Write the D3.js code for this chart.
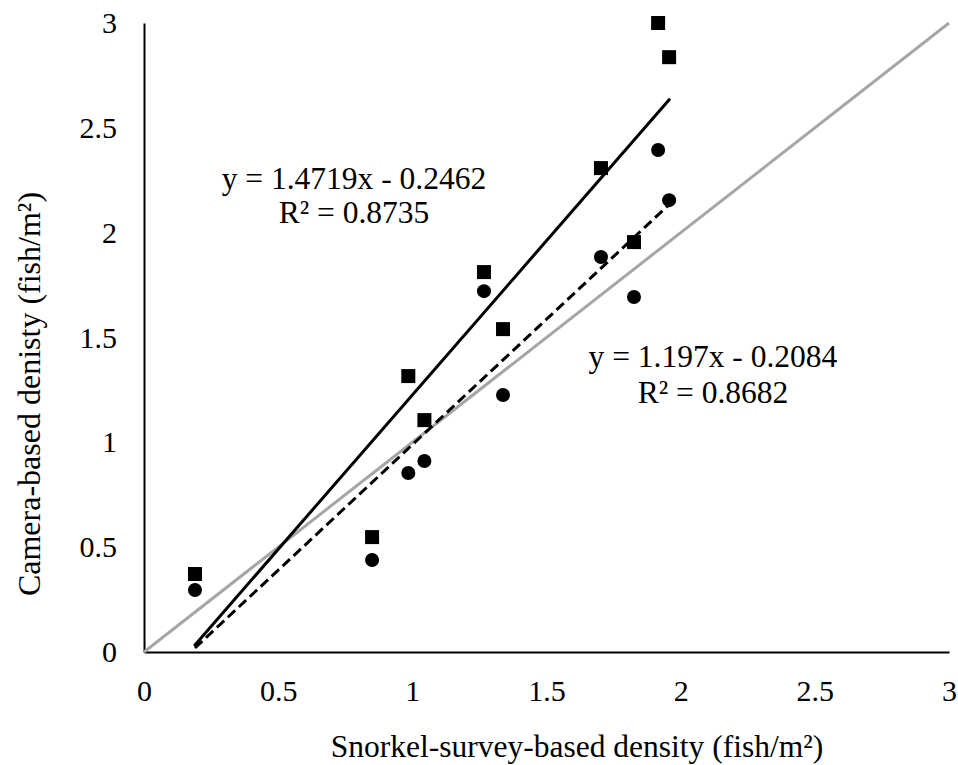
<!DOCTYPE html>
<html>
<head>
<meta charset="utf-8">
<script src="https://cdn.jsdelivr.net/npm/d3@7"></script>
<style>
  html, body { margin: 0; padding: 0; background: #fff; }
  svg { display: block; }
  text { font-family: "Liberation Serif", "Times New Roman", serif; fill: #000; }
</style>
</head>
<body>
<svg id="chart" width="958" height="765"></svg>
<script>
// ---- Data ----
const snorkelX = [0.19, 0.85, 0.985, 1.045, 1.267, 1.338, 1.703, 1.826, 1.916, 1.957];
const cameraSquares = [0.372, 0.548, 1.316, 1.106, 1.812, 1.540, 2.308, 1.955, 3.0, 2.837];
const cameraCircles = [0.296, 0.439, 0.854, 0.911, 1.721, 1.226, 1.884, 1.693, 2.394, 2.155];
const xTicks = [0, 0.5, 1, 1.5, 2, 2.5, 3];
const yTicks = [0, 0.5, 1, 1.5, 2, 2.5, 3];
const trendSquares = { slope: 1.4719, intercept: -0.2462, r2: 0.8735 };
const trendCircles = { slope: 1.197, intercept: -0.2084, r2: 0.8682 };
const oneToOne = [[0, 0], [3, 3]];
const xTitle = "Snorkel-survey-based density (fish/m\u00B2)";
const yTitle = "Camera-based denisty (fish/m\u00B2)";

const svg = d3.select("#chart");
const x = d3.scaleLinear().domain([0, 3]).range([144, 949]);
const y = d3.scaleLinear().domain([0, 3]).range([652, 23]);
const fmt = d => d3.format("")(d);

// Axes
const xAxis = svg.append("g").attr("transform", `translate(0,${y(0)})`)
  .call(d3.axisBottom(x).tickValues(xTicks).tickSize(0).tickPadding(28).tickFormat(fmt));
const yAxis = svg.append("g").attr("transform", `translate(${x(0)},0)`)
  .call(d3.axisLeft(y).tickValues(yTicks).tickSize(0).tickPadding(27).tickFormat(fmt));
[xAxis, yAxis].forEach(g => {
  g.select(".domain").attr("stroke", "#000").attr("stroke-width", 2);
  g.selectAll("text").style("font-family", '"Liberation Serif", serif').style("font-size", "30px").attr("fill", "#000");
});

// 1:1 line
const line = d3.line().x(d => x(d[0])).y(d => y(d[1]));
svg.append("path").datum(oneToOne).attr("d", line)
  .attr("fill", "none").attr("stroke", "#a6a6a6").attr("stroke-width", 3);

// Trendlines
const xMin = d3.min(snorkelX), xMax = d3.max(snorkelX);
function trendPts(t) { return [[xMin, t.slope * xMin + t.intercept], [xMax, t.slope * xMax + t.intercept]]; }
svg.append("path").datum(trendSquares).attr("d", d => line(trendPts(d)))
  .attr("fill", "none").attr("stroke", "#000").attr("stroke-width", 3).attr("stroke-linecap", "round");
svg.append("path").datum(trendCircles).attr("d", d => line(trendPts(d)))
  .attr("fill", "none").attr("stroke", "#000").attr("stroke-width", 3)
  .attr("stroke-dasharray", "10,5");

// Markers
const sq = 14;
svg.append("g").selectAll("rect").data(snorkelX).join("rect")
  .attr("x", (d) => x(d) - sq / 2)
  .attr("y", (d, i) => y(cameraSquares[i]) - sq / 2)
  .attr("width", sq).attr("height", sq).attr("fill", "#000");
svg.append("g").selectAll("circle").data(snorkelX).join("circle")
  .attr("cx", d => x(d))
  .attr("cy", (d, i) => y(cameraCircles[i]))
  .attr("r", 7).attr("fill", "#000");

// Equation labels
function eq(t) {
  return `y = ${t.slope}x ${t.intercept < 0 ? "-" : "+"} ${Math.abs(t.intercept)}`;
}
const eqG1 = svg.append("text").attr("text-anchor", "middle").style("font-size", "31.5px");
eqG1.append("tspan").attr("x", 354).attr("y", 189).text(eq(trendSquares));
eqG1.append("tspan").attr("x", 354).attr("y", 223).text(`R\u00B2 = ${trendSquares.r2}`);
const eqG2 = svg.append("text").attr("text-anchor", "middle").style("font-size", "31.5px");
eqG2.append("tspan").attr("x", 713).attr("y", 367).text(eq(trendCircles));
eqG2.append("tspan").attr("x", 713).attr("y", 403).text(`R\u00B2 = ${trendCircles.r2}`);

// Axis titles
svg.append("text").attr("text-anchor", "middle").attr("x", 577).attr("y", 757)
  .style("font-size", "31.5px").text(xTitle);
svg.append("text").attr("text-anchor", "middle")
  .attr("transform", `translate(40,394) rotate(-90)`)
  .style("font-size", "32px").text(yTitle);
</script>
</body>
</html>
